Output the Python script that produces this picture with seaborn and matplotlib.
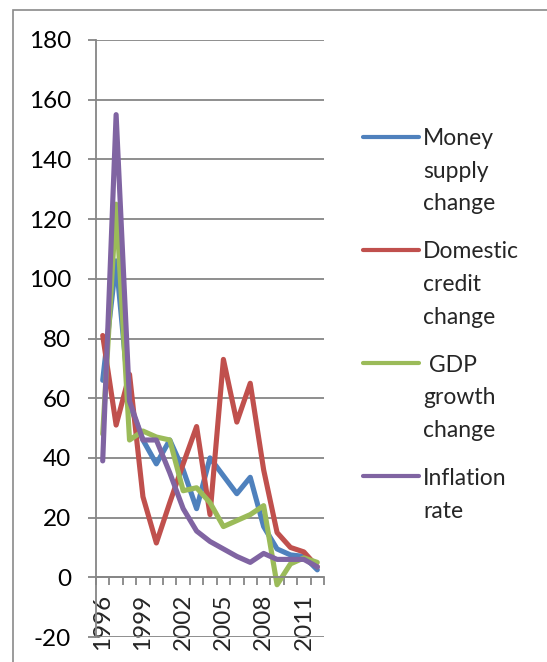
import matplotlib

matplotlib.use("Agg")
import matplotlib.pyplot as plt
import numpy as np
import pandas as pd
import seaborn as sns
from matplotlib.lines import Line2D
from matplotlib.patches import Rectangle

# data
years = list(range(1996, 2013))
money_supply = [66, 106, 58, 46, 38, 46, 36, 23, 40, 34, 28, 33.5, 17, 9.5, 7.5, 7, 2.5]
domestic_credit = [81, 51, 68, 27, 11.5, 25, 38, 50.5, 21, 73, 52, 65, 36, 15, 10, 8.5, 3.5]
gdp_growth = [48, 125, 46, 49, 47, 46, 29, 30, 25, 17, 19, 21, 24, -2.5, 4.5, 6.5, 5]
inflation = [39, 155, 59, 46, 46, 35, 23, 15.5, 12, 9.5, 7, 5, 8, 6, 6, 6, 3.5]

series_names = ["Money supply change", "Domestic credit change",
                "GDP growth change", "Inflation rate"]
legend_labels = [["Money", "supply", "change"],
                 ["Domestic", "credit", "change"],
                 [" GDP", "growth", "change"],
                 ["Inflation", "rate"]]
colors = ["#4F81BD", "#C0504D", "#9BBB59", "#8064A2"]
year_labels = [1996, 1999, 2002, 2005, 2008, 2011]
y_ticks = list(range(-20, 181, 20))

df = pd.DataFrame({
    "year": years * 4,
    "value": money_supply + domestic_credit + gdp_growth + inflation,
    "series": np.repeat(series_names, len(years)),
})

sns.set_style("white")
plt.rcParams["font.family"] = ["Lato", "DejaVu Sans"]
plt.rcParams["axes.unicode_minus"] = False

W, H = 547, 662
grey = "#868686"
fig = plt.figure(figsize=(W / 100, H / 100), dpi=100)
ax = fig.add_axes([96 / W, 25 / H, 228 / W, 597 / H])

sns.lineplot(data=df, x="year", y="value", hue="series",
             palette=dict(zip(series_names, colors)), linewidth=3.7,
             legend=False, ax=ax)
for line in ax.lines:
    line.set_solid_joinstyle("round")
    line.set_solid_capstyle("round")

ax.set_xlim(1995.5, 2012.5)
ax.set_ylim(-20, 180)
ax.set_xlabel("")
ax.set_ylabel("")

ax.set_yticks(y_ticks)
ax.yaxis.grid(True, color=grey, linewidth=1.3)
ax.xaxis.grid(False)
ax.set_axisbelow(True)
ax.tick_params(axis="y", length=6, width=1.3, color=grey, pad=12,
               labelsize=17.5, labelcolor="black", direction="out", left=True)

ax.set_xticks(year_labels)
ax.set_xticklabels([str(y) for y in year_labels])
ax.set_xticks(np.arange(1995.5, 2013, 1), minor=True)
ax.tick_params(axis="x", which="major", length=0, pad=12, labelsize=17.5,
               labelrotation=90)
ax.tick_params(axis="x", which="minor", length=6, width=1.3, color=grey,
               direction="out", bottom=True)

for side in ["top", "right"]:
    ax.spines[side].set_visible(False)
ax.spines["left"].set_color(grey)
ax.spines["left"].set_linewidth(1.3)
ax.spines["bottom"].set_position(("data", 0))
ax.spines["bottom"].set_color(grey)
ax.spines["bottom"].set_linewidth(1.3)

# outer chart border (only top and left visible in the crop)
fig.add_artist(Rectangle((13 / W, -0.1), 1.0, (H - 10) / H + 0.1,
                         transform=fig.transFigure, fill=False,
                         edgecolor="#8a8a8a", linewidth=1.2))

# legend, handle aligned with first line of each label
for i, (lines, color) in enumerate(zip(legend_labels, colors)):
    base = 145 + i * 113.3
    fig.add_artist(Line2D([363 / W, 419 / W], [1 - (base - 8.5) / H] * 2,
                          transform=fig.transFigure, color=color,
                          linewidth=3, solid_capstyle="round"))
    for j, txt in enumerate(lines):
        fig.text(423 / W, 1 - (base + j * 32.7) / H, txt,
                 ha="left", va="baseline", fontsize=16.5)

fig.savefig("out.png", dpi=100)
